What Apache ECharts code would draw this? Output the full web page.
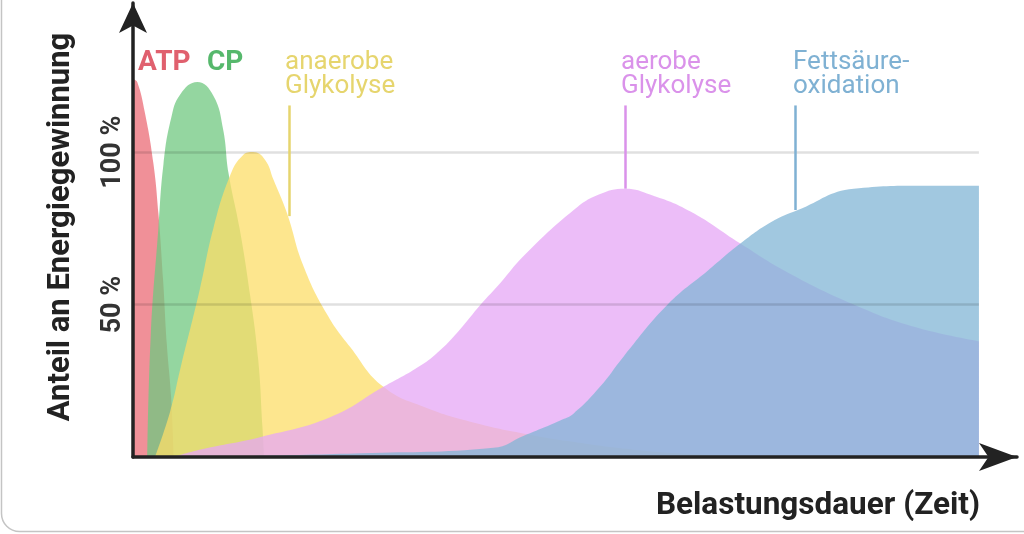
<!DOCTYPE html>
<html>
<head>
<meta charset="utf-8">
<script src="https://cdn.jsdelivr.net/npm/echarts@6/dist/echarts.min.js"></script>
<style>
  html, body { margin: 0; padding: 0; background: #ffffff; }
  #chart { width: 1024px; height: 534px; }
</style>
</head>
<body>
<div id="chart"></div>
<script>
// x = Belastungsdauer (0..100, arbitrary units), y = Anteil in %
const atpData = [[0, 124], [0.5, 123], [1.4, 113], [2.4, 96.5], [3.0, 80], [3.55, 58.5], [4.0, 37], [4.5, 20], [4.8, 0]];
const cpData = [[1.7, 0], [2.1, 40], [3.0, 75], [3.6, 96], [4.5, 111], [5.6, 119], [7.6, 123], [9.5, 118.5],
  [10.65, 107.5], [11.3, 93], [12.6, 75], [13.85, 53], [14.8, 32], [15.3, 10], [15.5, 0]];
const anaerobData = [[2.6, 0], [4.4, 15], [5.6, 29], [7.9, 55], [9.5, 75], [11.5, 92.5], [13.0, 99], [14.2, 100],
  [15.6, 97.5], [16.6, 91], [18.2, 80], [20.1, 63], [22.9, 47], [25.7, 36], [29.6, 23], [34.8, 16], [40.7, 11],
  [46.6, 7.5], [52, 5], [59, 2.5], [66, 1], [75, 0]];
const aerobData = [[4.7, 0], [8, 2.5], [15, 6.5], [23.3, 13], [29.6, 23], [34.0, 30], [36.3, 35], [38.7, 42],
  [41.1, 50], [43.4, 57], [46.2, 66], [52.1, 81], [55, 86], [58.2, 88], [61.2, 86], [65.9, 80.5],
  [71.8, 70], [77.4, 60.5], [85.2, 50], [92, 43], [100, 38]];
const fettData = [[8, 0], [27, 1.2], [42.6, 3], [46.2, 7], [50.5, 12], [52.1, 14.3], [55.2, 23], [58, 33], [63.2, 50],
  [67.9, 61], [71.8, 70], [75.4, 77], [78.6, 81], [85.2, 88], [93.1, 89], [100, 89]];

const yTicks = [50, 100];
// where the label pointer lines sit: [x, y on curve, y top]
const anaerobPointer = [18.44, 79, 115.3];
const aerobPointer = [58.16, 88, 115.3];
const fettPointer = [78.25, 81, 115.3];

const colors = {
  atp: 'rgba(235,107,118,0.75)',
  cp: 'rgba(112,200,128,0.75)',
  anaerob: 'rgba(252,222,104,0.75)',
  aerob: 'rgba(230,167,246,0.75)',
  fett: 'rgba(130,182,214,0.75)'
};
const textColors = {
  atp: '#e0606e',
  cp: '#56b86c',
  anaerob: '#e6d56e',
  aerob: '#da92ea',
  fett: '#7fb1d3'
};

const font = 'Roboto, "Noto Sans", sans-serif';

function areaSeries(name, data, color) {
  return {
    name: name,
    type: 'line',
    data: data,
    smooth: 0.45,
    symbol: 'none',
    lineStyle: { width: 0 },
    areaStyle: { color: color, opacity: 1 },
    silent: true
  };
}

function pointer(p, color) {
  return {
    silent: true,
    symbol: ['none', 'none'],
    label: { show: false },
    lineStyle: { color: color, width: 2.5, type: 'solid' },
    data: [[{ coord: [p[0], p[1]] }, { coord: [p[0], p[2]] }]]
  };
}

const chart = echarts.init(document.getElementById('chart'), null, { renderer: 'canvas' });

const series = [
  areaSeries('ATP', atpData, colors.atp),
  areaSeries('CP', cpData, colors.cp),
  areaSeries('anaerobe Glykolyse', anaerobData, colors.anaerob),
  areaSeries('aerobe Glykolyse', aerobData, colors.aerob),
  areaSeries('Fettsäureoxidation', fettData, colors.fett)
];
series[2].markLine = pointer(anaerobPointer, textColors.anaerob);
series[3].markLine = pointer(aerobPointer, textColors.aerob);
series[4].markLine = pointer(fettPointer, textColors.fett);
// gridlines at 50 % and 100 %
series[0].markLine = {
  silent: true,
  symbol: ['none', 'none'],
  label: { show: false },
  lineStyle: { color: 'rgba(0,0,0,0.12)', width: 2.5, type: 'solid' },
  data: yTicks.map(v => [{ coord: [0, v] }, { coord: [100, v] }])
};

const option = {
  animation: false,
  backgroundColor: '#ffffff',
  grid: { left: 133, right: 7, top: 0, bottom: 77 },
  xAxis: {
    type: 'value',
    min: 0,
    max: 104.5,
    z: 5,
    axisLine: {
      show: true,
      symbol: ['none', 'arrow'],
      symbolSize: [21, 38],
      lineStyle: { color: '#222222', width: 3.5 }
    },
    axisTick: { show: false },
    axisLabel: { show: false },
    splitLine: { show: false }
  },
  yAxis: {
    type: 'value',
    min: 0,
    max: 148.9,
    interval: 50,
    z: 5,
    axisLine: {
      show: true,
      symbol: ['none', 'arrow'],
      symbolSize: [21, 30],
      lineStyle: { color: '#222222', width: 3.5 }
    },
    axisTick: { show: false },
    splitLine: { show: false },
    axisLabel: {
      rotate: 90,
      margin: 6,
      fontSize: 27,
      fontWeight: 'bold',
      fontFamily: font,
      color: '#333333',
      formatter: v => (yTicks.indexOf(v) >= 0 ? v + ' %' : '')
    }
  },
  graphic: [
    // card frame of the screenshot
    { type: 'rect', silent: true, shape: { x: 1.5, y: -30, width: 1100, height: 561.5, r: 18 },
      style: { fill: 'none', stroke: '#c4c4c4', lineWidth: 1.5 } },
    { type: 'text', x: 61, y: 227, rotation: Math.PI / 2,
      style: { text: 'Anteil an Energiegewinnung', font: 'bold 31px ' + font, fill: '#222222',
        textAlign: 'center', textVerticalAlign: 'middle' } },
    { type: 'text', x: 980, y: 506,
      style: { text: 'Belastungsdauer (Zeit)', font: 'bold 31.5px ' + font, fill: '#222222',
        textAlign: 'right', textVerticalAlign: 'middle' } },
    { type: 'text', x: 138, y: 63,
      style: { text: 'ATP', font: 'bold 28px ' + font, fill: textColors.atp, textVerticalAlign: 'middle' } },
    { type: 'text', x: 207, y: 63,
      style: { text: 'CP', font: 'bold 28px ' + font, fill: textColors.cp, textVerticalAlign: 'middle' } },
    { type: 'text', x: 285, y: 62,
      style: { text: 'anaerobe', font: '26px ' + font, fill: textColors.anaerob, textVerticalAlign: 'middle' } },
    { type: 'text', x: 285, y: 86.5,
      style: { text: 'Glykolyse', font: '26px ' + font, fill: textColors.anaerob, textVerticalAlign: 'middle' } },
    { type: 'text', x: 621, y: 62,
      style: { text: 'aerobe', font: '26px ' + font, fill: textColors.aerob, textVerticalAlign: 'middle' } },
    { type: 'text', x: 621, y: 86.5,
      style: { text: 'Glykolyse', font: '26px ' + font, fill: textColors.aerob, textVerticalAlign: 'middle' } },
    { type: 'text', x: 793, y: 62,
      style: { text: 'Fettsäure-', font: '26px ' + font, fill: textColors.fett, textVerticalAlign: 'middle' } },
    { type: 'text', x: 793, y: 86.5,
      style: { text: 'oxidation', font: '26px ' + font, fill: textColors.fett, textVerticalAlign: 'middle' } }
  ],
  series: series
};

option && chart.setOption(option);
</script>
</body>
</html>
